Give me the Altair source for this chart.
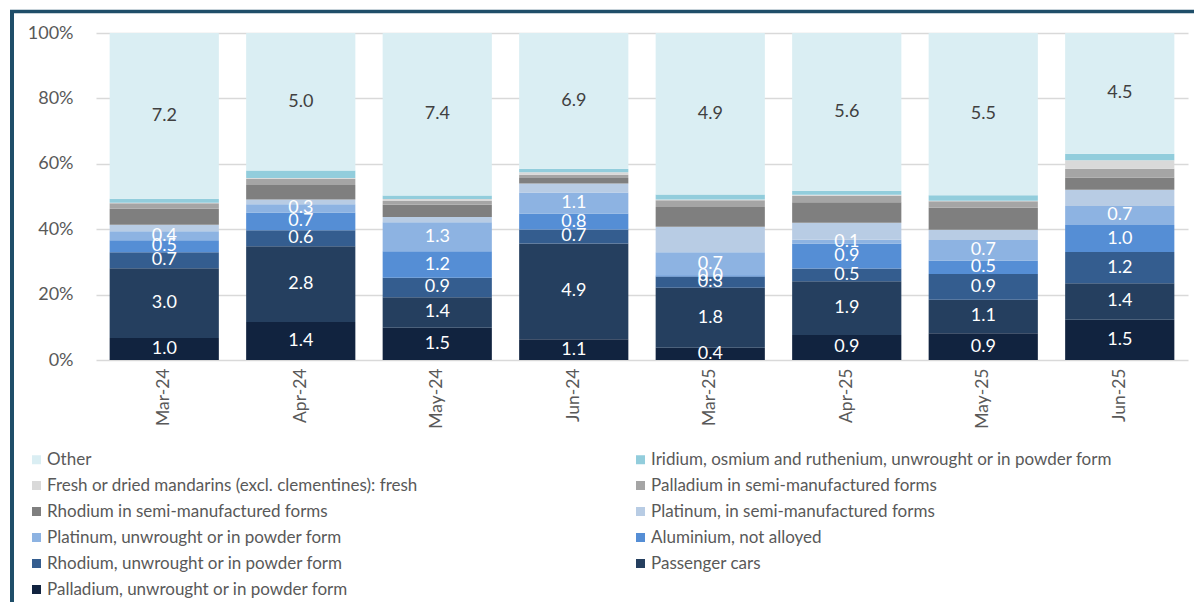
import altair as alt
import pandas as pd

months = ["Mar-24", "Apr-24", "May-24", "Jun-24", "Mar-25", "Apr-25", "May-25", "Jun-25"]

# stacking order, bottom to top
series = [
    "Palladium, unwrought or in powder form",
    "Passenger cars",
    "Rhodium, unwrought or in powder form",
    "Aluminium, not alloyed",
    "Platinum, unwrought or in powder form",
    "Platinum, in semi-manufactured forms",
    "Rhodium in semi-manufactured forms",
    "Palladium in semi-manufactured forms",
    "Fresh or dried mandarins (excl. clementines): fresh",
    "Iridium, osmium and ruthenium, unwrought or in powder form",
    "Other",
]
colors = [
    "#11233f", "#253f5f", "#345d8f", "#558ed5", "#8db3e2", "#b8cce4",
    "#7f7f7f", "#a5a5a5", "#d9d9d9", "#92cddc", "#daeef3",
]

palladium_unwrought = [0.96, 1.38, 1.47, 1.06, 0.37, 0.89, 0.91, 1.50]
passenger_cars = [3.03, 2.76, 1.39, 4.86, 1.82, 1.90, 1.13, 1.36]
rhodium_unwrought = [0.69, 0.58, 0.88, 0.71, 0.34, 0.46, 0.87, 1.16]
aluminium = [0.52, 0.65, 1.21, 0.81, 0.04, 0.88, 0.46, 1.01]
platinum_unwrought = [0.40, 0.30, 1.32, 1.07, 0.70, 0.14, 0.70, 0.71]
platinum_semi = [0.28, 0.17, 0.24, 0.45, 0.77, 0.60, 0.34, 0.60]
rhodium_semi = [0.69, 0.53, 0.56, 0.28, 0.60, 0.73, 0.75, 0.46]
palladium_semi = [0.24, 0.23, 0.16, 0.17, 0.21, 0.23, 0.22, 0.32]
mandarins = [0.02, 0.02, 0.10, 0.13, 0.02, 0.03, 0.02, 0.32]
iridium = [0.18, 0.28, 0.15, 0.17, 0.15, 0.14, 0.18, 0.24]
other = [7.2, 5.0, 7.4, 6.9, 4.9, 5.6, 5.5, 4.5]

all_values = [palladium_unwrought, passenger_cars, rhodium_unwrought, aluminium,
              platinum_unwrought, platinum_semi, rhodium_semi, palladium_semi,
              mandarins, iridium, other]
labeled = set(series[:5] + ["Other"])

# legend reads row by row (top of stack first); the legend grid fills column by column
legend_rowwise = series[::-1]
legend_domain = legend_rowwise[0::2] + legend_rowwise[1::2]
legend_range = [colors[series.index(s)] for s in legend_domain]

rows = []
for si, (name, vals) in enumerate(zip(series, all_values)):
    for mi, m in enumerate(months):
        rows.append({"month": m, "series": name, "value": vals[mi],
                     "order": si, "labeled": name in labeled})
df = pd.DataFrame(rows)

FONT = "Lato"
TXT = "#595959"

color_scale = alt.Scale(domain=legend_domain, range=legend_range)

base = alt.Chart(df).transform_stack(
    stack="value", groupby=["month"],
    sort=[alt.SortField("order", order="ascending")],
    as_=["y0", "y1"], offset="normalize",
)

x_enc = alt.X("month:N", sort=months,
              scale=alt.Scale(paddingInner=0.2, paddingOuter=0.1),
              axis=alt.Axis(labelAngle=-90, labelFont=FONT, labelFontSize=17.5,
                            labelColor=TXT, ticks=False, domain=False,
                            labelPadding=8, title=None))

bars = base.mark_bar().encode(
    x=x_enc,
    y=alt.Y("y0:Q", scale=alt.Scale(domain=[0, 1]),
            axis=alt.Axis(values=[0, 0.2, 0.4, 0.6, 0.8, 1.0], format=".0%",
                          labelFont=FONT, labelFontSize=18, labelColor=TXT,
                          labelPadding=23, ticks=False, domain=False,
                          gridColor="#d9d9d9", gridWidth=1.5, title=None)),
    y2="y1:Q",
    color=alt.Color("series:N", scale=color_scale,
                    legend=alt.Legend(title=None, orient="none", legendX=-68,
                                      legendY=418, columns=2, columnPadding=214,
                                      rowPadding=8, symbolType="square",
                                      symbolSize=81, symbolStrokeWidth=0,
                                      labelFont=FONT, labelFontSize=17,
                                      labelColor=TXT, labelOffset=2,
                                      labelLimit=700, padding=0)),
)

labels = base.transform_filter("datum.labeled").transform_calculate(
    mid="(datum.y0 + datum.y1) / 2"
).mark_text(font=FONT, fontSize=18).encode(
    x=alt.X("month:N", sort=months),
    y=alt.Y("mid:Q"),
    text=alt.Text("value:Q", format=".1f"),
    color=alt.condition("datum.series == 'Other'", alt.value("#404040"), alt.value("white")),
)

frame_df = pd.DataFrame({"k": [0]})
frame_top = alt.Chart(frame_df).mark_rule(color="#1f4e69", strokeWidth=3.5).encode(
    x=alt.value(-86), x2=alt.value(1110), y=alt.value(-21.5))
frame_left = alt.Chart(frame_df).mark_rule(color="#1f4e69", strokeWidth=4).encode(
    x=alt.value(-84), y=alt.value(-23), y2=alt.value(580))

chart = alt.layer(bars, labels, frame_top, frame_left).properties(
    width=1092, height=327,
    padding={"left": 88, "top": 25, "right": 6, "bottom": 250},
    autosize=alt.AutoSizeParams(type="none"),
).configure_view(stroke=None)

chart.save("out.html", embed_options={"renderer": "svg", "actions": False})
